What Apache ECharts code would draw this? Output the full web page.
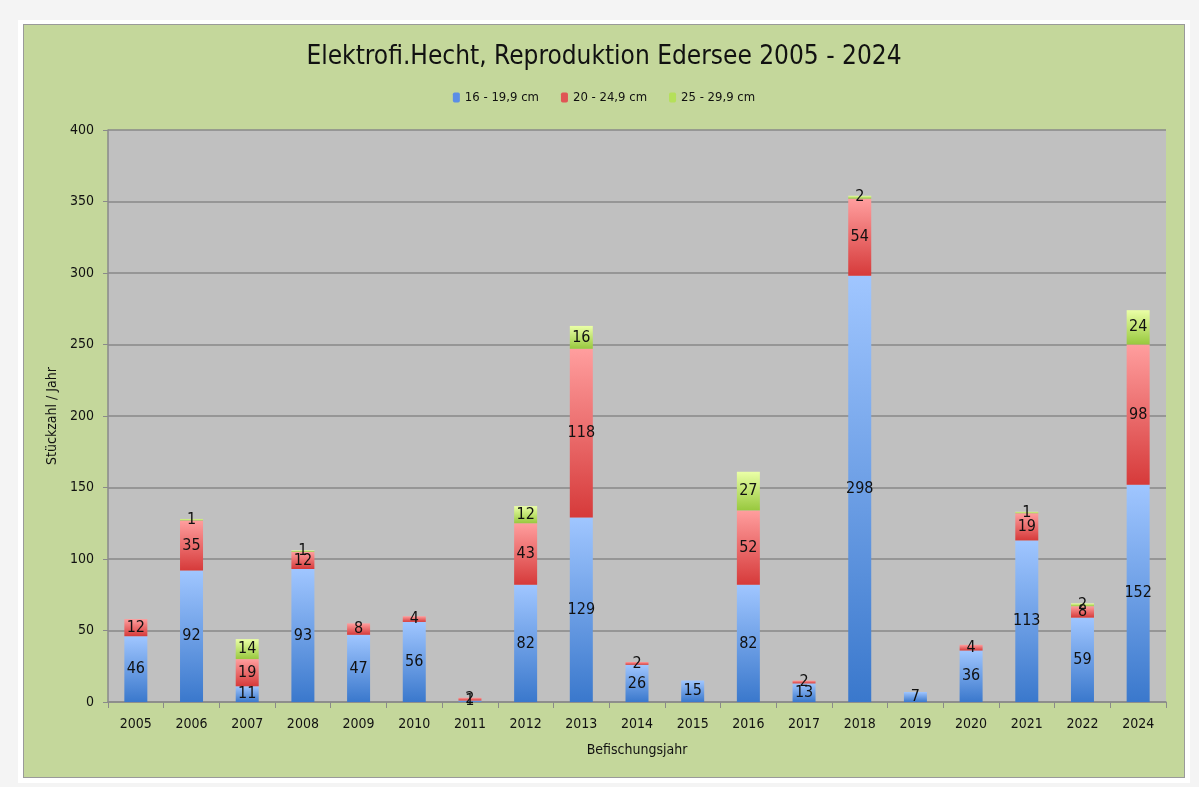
<!DOCTYPE html>
<html>
<head>
<meta charset="utf-8">
<script src="https://cdn.jsdelivr.net/npm/echarts@6/dist/echarts.min.js"></script>
<style>
body { margin:0; background:#f4f4f4; }
#frame { position:absolute; left:18px; top:20px; width:1172px; height:763px; background:#fff; }
#panel { position:absolute; left:23px; top:24px; width:1160px; height:752px; background:#c4d79b; border:1px solid #9a9a9a; }
#chart { width:1160px; height:752px; }
</style>
</head>
<body>
<div id="frame"></div>
<div id="panel"><div id="chart"></div></div>
<script>
// Befischungsjahre (2023 fehlt)
var years = ['2005','2006','2007','2008','2009','2010','2011','2012','2013','2014','2015','2016','2017','2018','2019','2020','2021','2022','2024'];
var size16 = [46, 92, 11, 93, 47, 56, 1, 82, 129, 26, 15, 82, 13, 298, 7, 36, 113, 59, 152];
var size20 = [12, 35, 19, 12, 8, 4, 2, 43, 118, 2, null, 52, 2, 54, null, 4, 19, 8, 98];
var size25 = [null, 1, 14, 1, null, null, null, 12, 16, null, null, 27, null, 2, null, null, 1, 2, 24];

var font = '"Liberation Sans Narrow", "DejaVu Sans Condensed", sans-serif';
var chart = echarts.init(document.getElementById('chart'));

function grad(top, bottom) {
    return new echarts.graphic.LinearGradient(0, 0, 0, 1, [
        { offset: 0, color: top },
        { offset: 1, color: bottom }
    ]);
}

function barSeries(name, data, top, bottom) {
    return {
        name: name,
        type: 'bar',
        stack: 'total',
        barWidth: 23,
        data: data,
        itemStyle: { color: grad(top, bottom) },
        label: {
            show: true,
            position: 'inside',
            color: '#111',
            fontSize: 16,
            fontFamily: font
        }
    };
}

var option = {
    animation: false,
    title: {
        text: 'Elektrofi.Hecht, Reproduktion Edersee 2005 - 2024',
        left: 'center',
        top: 14,
        textStyle: { fontFamily: font, fontSize: 26, fontWeight: 'normal', color: '#111' }
    },
    legend: {
        top: 61,
        left: 'center',
        itemWidth: 7,
        itemHeight: 10,
        itemGap: 22,
        textStyle: { fontFamily: font, fontSize: 13, color: '#111' },
        data: [
            { name: '16 - 19,9 cm', itemStyle: { color: '#5b8ee6' } },
            { name: '20 - 24,9 cm', itemStyle: { color: '#e05555' } },
            { name: '25 - 29,9 cm', itemStyle: { color: '#b5e05a' } }
        ]
    },
    grid: {
        left: 84, right: 18, top: 105, bottom: 75,
        show: true,
        backgroundColor: '#c0c0c0',
        borderWidth: 0
    },
    xAxis: {
        type: 'category',
        data: years,
        name: 'Befischungsjahr',
        nameLocation: 'middle',
        nameGap: 41,
        nameTextStyle: { fontFamily: font, fontSize: 14, color: '#111' },
        axisLine: { lineStyle: { color: '#8a8a8a', width: 1.5 } },
        axisTick: { show: true, length: 6, lineStyle: { color: '#8a8a8a' } },
        axisLabel: { fontFamily: font, fontSize: 14, color: '#111', margin: 15 }
    },
    yAxis: {
        type: 'value',
        min: 0,
        max: 400,
        interval: 50,
        name: 'Stückzahl / Jahr',
        nameLocation: 'middle',
        nameGap: 47,
        nameTextStyle: { fontFamily: font, fontSize: 14, color: '#111' },
        axisLine: { show: true, lineStyle: { color: '#8a8a8a', width: 1.5 } },
        axisTick: { show: true, length: 5, lineStyle: { color: '#8a8a8a' } },
        axisLabel: { fontFamily: font, fontSize: 14, color: '#111', margin: 14 },
        splitLine: { lineStyle: { color: '#888', width: 1.5 } }
    },
    series: [
        barSeries('16 - 19,9 cm', size16, '#a0c6ff', '#3a78cc'),
        barSeries('20 - 24,9 cm', size20, '#ff9e9e', '#d63a3a'),
        barSeries('25 - 29,9 cm', size25, '#eaffa6', '#98c83e')
    ]
};
chart.setOption(option);
</script>
</body>
</html>
